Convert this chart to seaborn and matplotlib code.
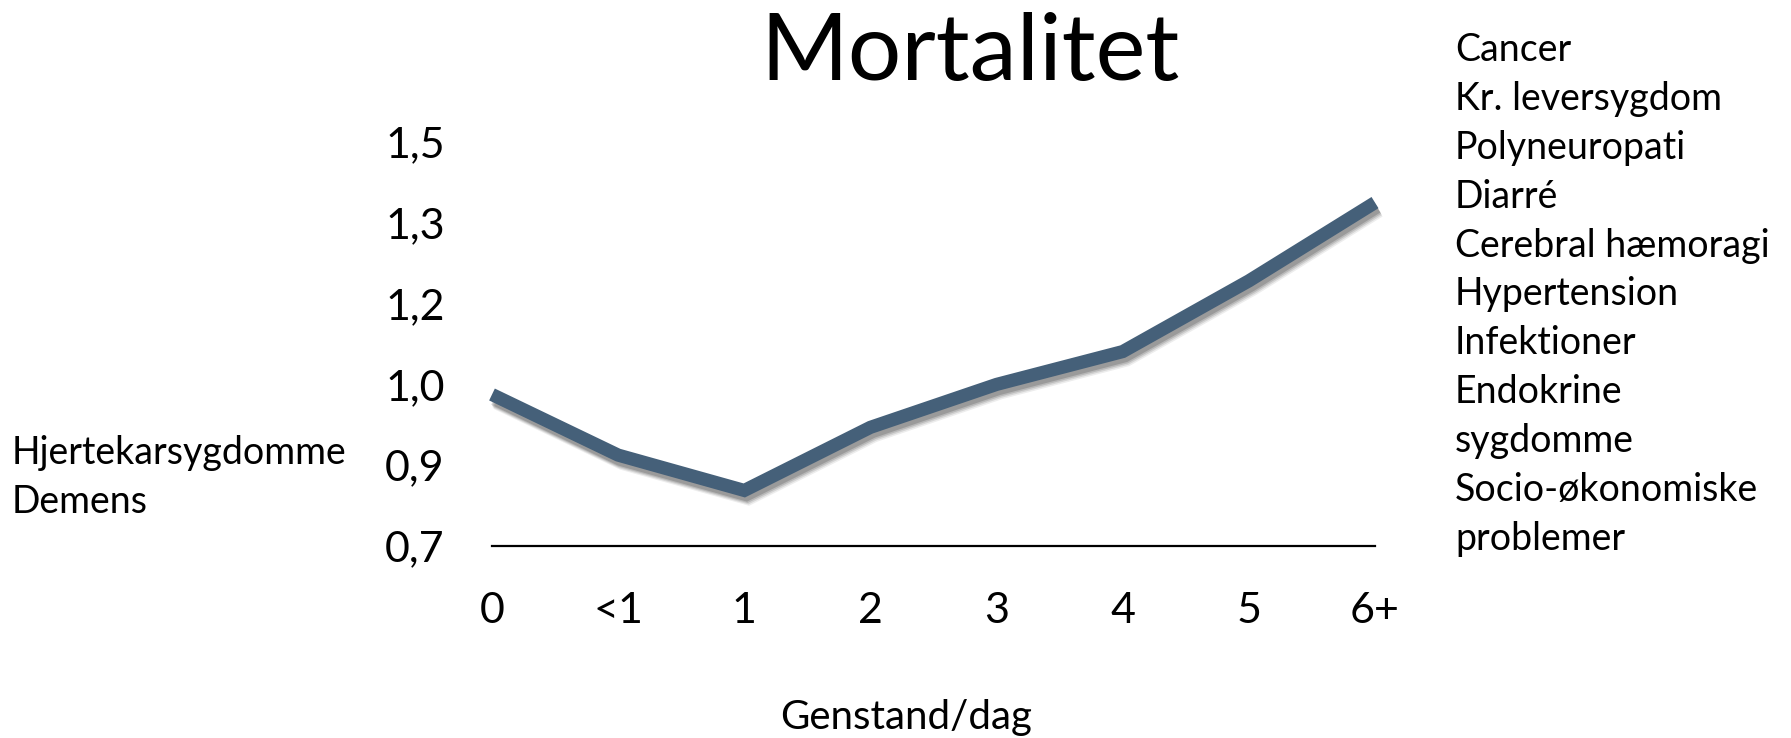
import numpy as np
import pandas as pd
import matplotlib
matplotlib.use("Agg")
import matplotlib.pyplot as plt
import matplotlib.patheffects as pe
import seaborn as sns

# data
categories = ["0", "<1", "1", "2", "3", "4", "5", "6+"]
mortality = [1.0, 0.88, 0.81, 0.935, 1.02, 1.085, 1.225, 1.38]
y_ticks = [0.7, 0.86, 1.02, 1.18, 1.34, 1.5]
left_notes = ["Hjertekarsygdomme", "Demens"]
right_notes = ["Cancer", "Kr. leversygdom", "Polyneuropati", "Diarré",
               "Cerebral hæmoragi", "Hypertension", "Infektioner", "Endokrine",
               "sygdomme", "Socio-økonomiske", "problemer"]

sns.set_theme(style="white")
plt.rcParams["font.family"] = ["Lato", "DejaVu Sans"]
plt.rcParams["text.color"] = "black"
plt.rcParams["axes.labelcolor"] = "black"

df = pd.DataFrame({"pos": np.arange(len(categories)), "value": mortality})

W, H = 1791, 738
fig = plt.figure(figsize=(W / 100, H / 100), dpi=100)
ax = fig.add_axes([492 / W, 1 - 546 / H, 883 / W, 404 / H])

sns.lineplot(data=df, x="pos", y="value", ax=ax, sort=False,
             color="#456079", linewidth=9.5, solid_capstyle="butt",
             solid_joinstyle="miter")
line = ax.lines[0]
line.set_clip_on(False)
# soft drop shadow under the line
line.set_path_effects([
    pe.SimpleLineShadow(offset=(3, -6), shadow_color="black", alpha=0.07),
    pe.SimpleLineShadow(offset=(2.5, -5), shadow_color="black", alpha=0.10),
    pe.SimpleLineShadow(offset=(2, -4), shadow_color="black", alpha=0.13),
    pe.SimpleLineShadow(offset=(1.5, -3), shadow_color="black", alpha=0.16),
    pe.Normal(),
])

ax.set_xlim(0, len(categories) - 1)
ax.set_ylim(0.7, 1.5)
ax.set_xticks(df["pos"])
ax.set_xticklabels(categories)
ax.set_yticks(y_ticks)
ax.set_yticklabels([f"{v:.1f}".replace(".", ",") for v in y_ticks])
ax.tick_params(axis="both", length=0, labelsize=31, colors="black")
ax.tick_params(axis="x", pad=33)
ax.tick_params(axis="y", pad=34)

for side in ["top", "right", "left"]:
    ax.spines[side].set_visible(False)
ax.spines["bottom"].set_color("black")
ax.spines["bottom"].set_linewidth(1.6)

ax.set_ylabel("")
ax.set_xlabel("Genstand/dag", fontsize=29, va="center")
ax.xaxis.set_label_coords((906 - 492) / 883, -171 / 404)

fig.text(970 / W, 1 - 54 / H, "Mortalitet", fontsize=68,
         ha="center", va="center")

for i, txt in enumerate(left_notes):
    fig.text(12 / W, 1 - (464 + 49 * i) / H, txt, fontsize=27,
             ha="left", va="baseline")

for i, txt in enumerate(right_notes):
    fig.text(1455 / W, 1 - (61 + 48.9 * i) / H, txt, fontsize=27,
             ha="left", va="baseline")

fig.savefig("out.png", dpi=100, facecolor="white")
